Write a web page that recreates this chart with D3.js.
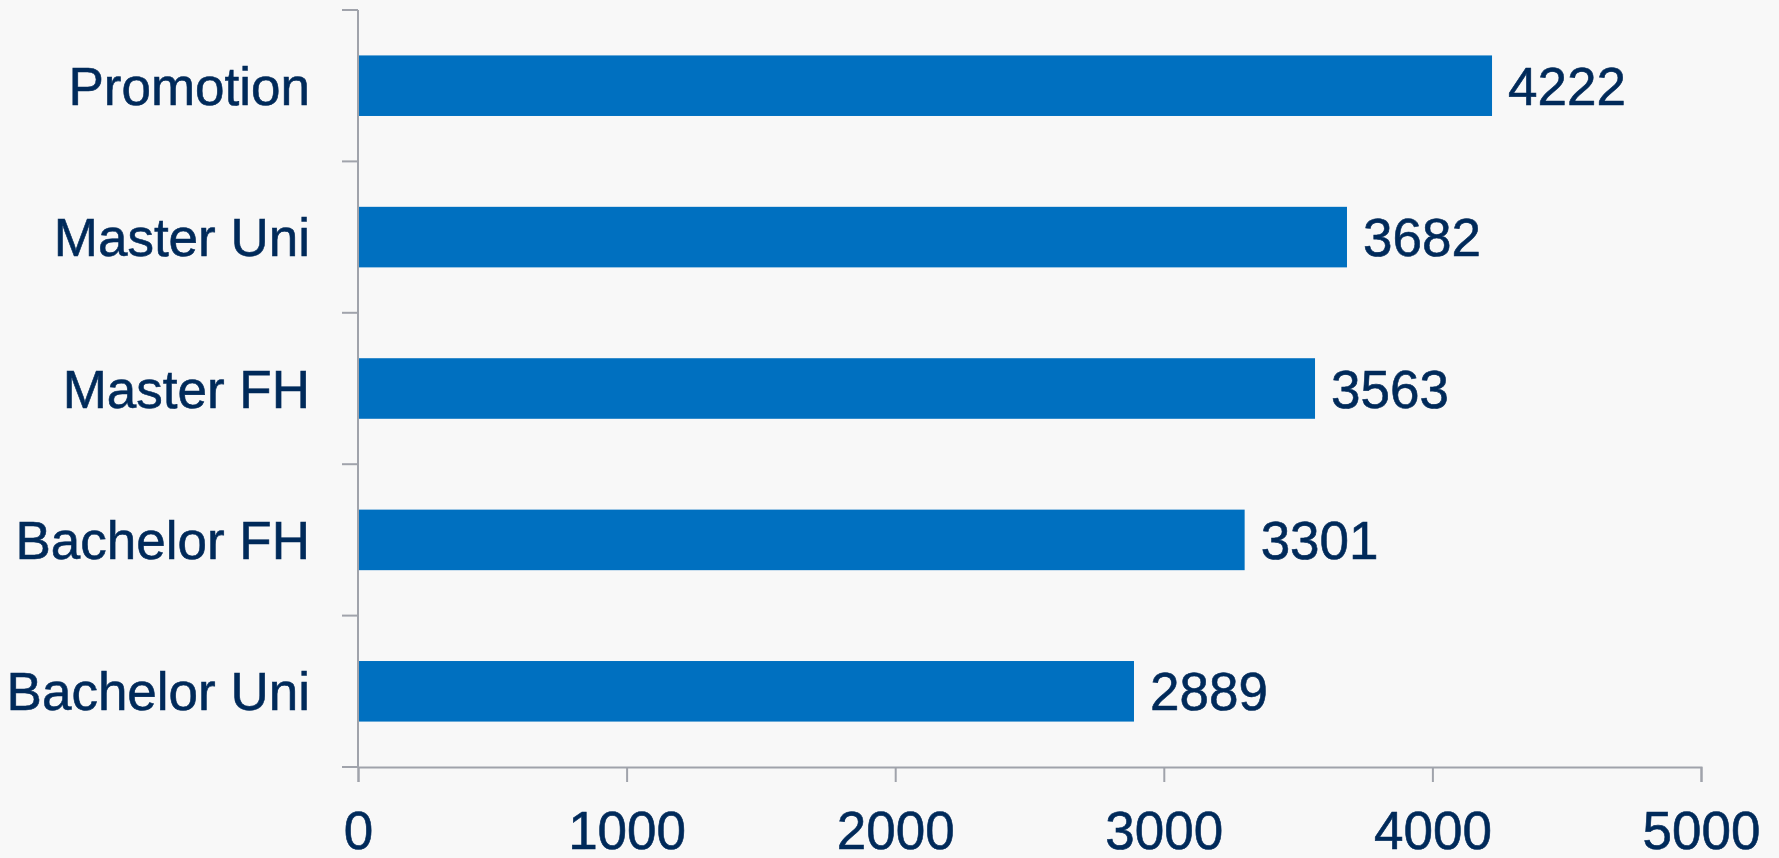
<!DOCTYPE html>
<meta charset="utf-8">
<style>
    body {
        margin: 0;
        background: #f8f8f8;
    }
    svg {
        display: block;
    }
    text {
        font-family: "Liberation Sans", Arial, sans-serif;
        font-size: 53px;
        fill: #002a5a;
        stroke: #002a5a;
        stroke-width: 0.6px;
    }
    .axis path, .axis line {
        stroke: #a0a3ab;
        stroke-width: 2px;
    }
</style>
<body>
<script src="https://d3js.org/d3.v7.min.js"></script>
<script>
    var categories = ["Promotion", "Master Uni", "Master FH", "Bachelor FH", "Bachelor Uni"];
    var values = [4222, 3682, 3563, 3301, 2889];
    var xTicks = [0, 1000, 2000, 3000, 4000, 5000];

    var width = 1779,
        height = 858,
        margin = {top: 10, right: 78, bottom: 91, left: 358};

    var svg = d3.select("body").append("svg")
        .attr("width", width)
        .attr("height", height);

    var g = svg.append("g")
        .attr("transform", "translate(" + margin.left + "," + margin.top + ")");

    var w = width - margin.left - margin.right,
        h = height - margin.top - margin.bottom;

    var x = d3.scaleLinear().domain([0, 5000]).range([0, w]);
    var y = d3.scaleBand().domain(categories).range([0, h]).paddingInner(0.6).paddingOuter(0.3);

    // bars
    g.selectAll("rect.bar")
        .data(values)
        .enter().append("rect")
        .attr("class", "bar")
        .attr("x", 0)
        .attr("y", function(d, i) { return y(categories[i]); })
        .attr("width", function(d) { return x(d); })
        .attr("height", y.bandwidth())
        .attr("fill", "#0070c0");

    // value labels
    g.selectAll("text.val")
        .data(values)
        .enter().append("text")
        .attr("class", "val")
        .attr("x", function(d) { return x(d) + 16; })
        .attr("y", function(d, i) { return y(categories[i]) + y.bandwidth() / 2; })
        .attr("dy", "0.36em")
        .text(function(d) { return d; });

    // x axis
    var xAxis = g.append("g")
        .attr("class", "axis")
        .attr("transform", "translate(0," + h + ")")
        .call(d3.axisBottom(x).tickValues(xTicks).tickSize(15).tickSizeOuter(15).tickPadding(29).tickFormat(d3.format("d")));
    xAxis.selectAll("text").attr("dy", "0.71em");
    xAxis.attr("font-size", null).attr("font-family", null);

    // y axis: ticks on band boundaries
    var yAxisG = g.append("g").attr("class", "axis");
    yAxisG.append("line")
        .attr("x1", 0).attr("x2", 0)
        .attr("y1", 0).attr("y2", h);
    var step = y.step();
    var bounds = d3.range(categories.length + 1).map(function(i) {
        return i === 0 ? 0 : (i === categories.length ? h : y(categories[i]) - (step - y.bandwidth()) / 2);
    });
    yAxisG.selectAll("line.tick")
        .data(bounds)
        .enter().append("line")
        .attr("class", "tick")
        .attr("x1", -16).attr("x2", 0)
        .attr("y1", function(d) { return d; })
        .attr("y2", function(d) { return d; });

    g.selectAll("text.cat")
        .data(categories)
        .enter().append("text")
        .attr("class", "cat")
        .attr("x", -48)
        .attr("y", function(d) { return y(d) + y.bandwidth() / 2; })
        .attr("dy", "0.36em")
        .attr("text-anchor", "end")
        .text(function(d) { return d; });
</script>
</body>
